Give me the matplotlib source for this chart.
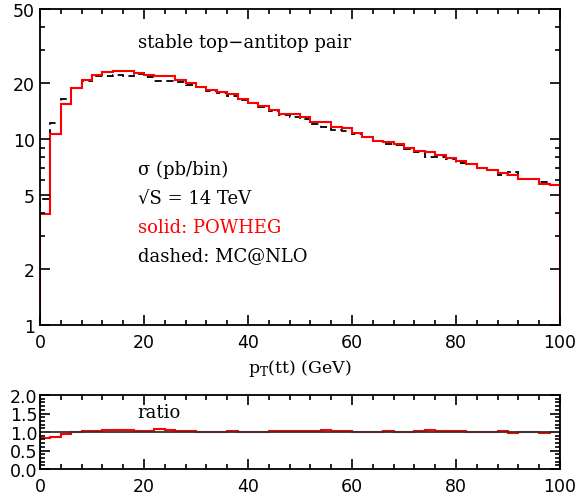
import matplotlib
matplotlib.use("Agg")
import matplotlib.pyplot as plt
import matplotlib.ticker as tckr
import numpy as np

# pT(tt) histogram, 2 GeV bins from 0 to 100
bin_edges = np.arange(0, 101, 2)

# POWHEG (red solid), pb/bin
powheg = [3.95, 10.7, 15.5, 18.7, 20.8, 22.2, 22.8, 23.2, 23.3, 22.7,
          22.2, 21.9, 21.7, 20.8, 20.0, 19.1, 18.4, 17.8, 17.5, 16.4,
          15.7, 15.1, 14.4, 13.7, 13.6, 13.2, 12.3, 12.3, 11.6, 11.4,
          10.8, 10.3, 9.8, 9.6, 9.4, 8.9, 8.65, 8.5, 8.2, 7.94,
          7.62, 7.31, 6.96, 6.79, 6.58, 6.39, 6.06, 6.06, 5.75, 5.63]

# MC@NLO (black dashed), pb/bin
mcatnlo = [4.74, 12.2, 16.5, 18.9, 20.5, 21.9, 21.9, 22.2, 21.9, 22.3,
           21.6, 20.5, 20.4, 20.2, 19.4, 19.0, 18.2, 17.6, 17.0, 16.3,
           15.6, 14.9, 14.2, 13.5, 13.2, 12.8, 12.0, 11.6, 11.2, 11.0,
           10.7, 10.2, 9.8, 9.4, 9.3, 8.8, 8.5, 8.05, 8.0, 7.8,
           7.45, 7.3, 6.95, 6.8, 6.37, 6.62, 6.1, 6.1, 5.86, 5.65]

y_ticks = [1, 2, 5, 10, 20, 50]
ratio_ticks = [0.0, 0.5, 1.0, 1.5, 2.0]
x_ticks = [0, 20, 40, 60, 80, 100]

text_font = 'DejaVu Serif'
tick_size = 12.5

fig = plt.figure(figsize=(5.81, 5.02), dpi=100)
ax = fig.add_axes([40/581, 1 - 326/502, 520/581, 316/502])
axr = fig.add_axes([40/581, 1 - 470/502, 520/581, 74/502])

# main panel
ax.stairs(mcatnlo, bin_edges, color='black', linestyle=(0, (4, 2.5)), linewidth=1.3)
ax.stairs(powheg, bin_edges, baseline=1, color='red', linewidth=1.5)
ax.set_yscale('log')
ax.set_xlim(0, 100)
ax.set_ylim(1, 50)
ax.set_yticks(y_ticks)
ax.yaxis.set_major_formatter(tckr.FuncFormatter(lambda v, p: '%d' % v))
ax.yaxis.set_minor_locator(tckr.LogLocator(base=10, subs=np.arange(2, 10)))
ax.yaxis.set_minor_formatter(tckr.NullFormatter())
ax.set_xticks(x_ticks)
ax.xaxis.set_minor_locator(tckr.MultipleLocator(4))
ax.set_xlabel(r'p$_\mathregular{T}$(tt) (GeV)', fontfamily=text_font, fontsize=12.5, labelpad=4)

ax.text(0.188, 0.896, 'stable top\u2212antitop pair', transform=ax.transAxes,
        fontfamily=text_font, fontsize=13, va='center')
ax.text(0.188, 0.494, '\u03c3 (pb/bin)', transform=ax.transAxes,
        fontfamily=text_font, fontsize=13, va='center')
ax.text(0.188, 0.402, '\u221aS = 14 TeV', transform=ax.transAxes,
        fontfamily=text_font, fontsize=13, va='center')
ax.text(0.188, 0.310, 'solid: POWHEG', transform=ax.transAxes, color='red',
        fontfamily=text_font, fontsize=13, va='center')
ax.text(0.188, 0.222, 'dashed: MC@NLO', transform=ax.transAxes,
        fontfamily=text_font, fontsize=13, va='center')

# ratio panel
ratio = np.array(powheg) / np.array(mcatnlo)
axr.axhline(1.0, color='#333333', linewidth=1.3)
axr.stairs(ratio, bin_edges, baseline=0, color='red', linewidth=1.5)
axr.set_xlim(0, 100)
axr.set_ylim(0, 2)
axr.set_yticks(ratio_ticks)
axr.yaxis.set_major_formatter(tckr.FormatStrFormatter('%.1f'))
axr.yaxis.set_minor_locator(tckr.MultipleLocator(0.1))
axr.set_xticks(x_ticks)
axr.xaxis.set_minor_locator(tckr.MultipleLocator(4))
axr.text(0.188, 0.767, 'ratio', transform=axr.transAxes,
         fontfamily=text_font, fontsize=13, va='center')

for a in (ax, axr):
    a.tick_params(which='both', direction='in', top=True, right=True,
                  labelsize=tick_size, width=1.2)
    a.tick_params(which='major', length=7)
    a.tick_params(which='minor', length=3.5)
    for s in a.spines.values():
        s.set_linewidth(1.3)
ax.tick_params(axis='x', pad=6)
axr.tick_params(axis='x', pad=6)
axr.tick_params(axis='y', pad=2)

fig.savefig('out.png', dpi=100)
